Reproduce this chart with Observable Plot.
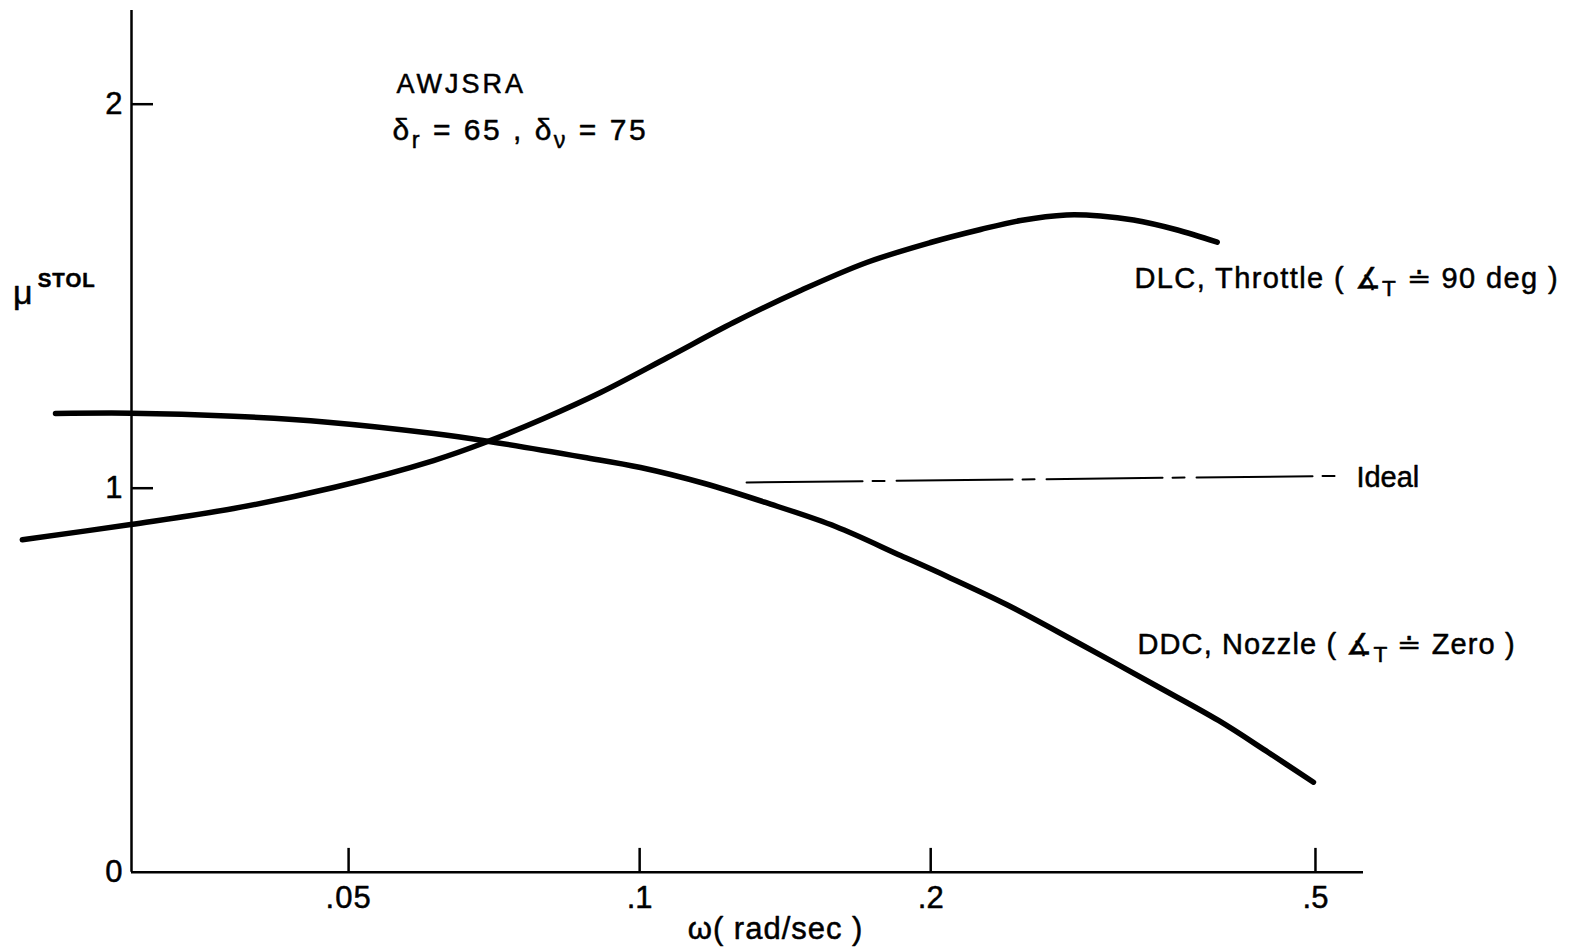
<!DOCTYPE html>
<html><head><meta charset="utf-8">
<script src="https://cdn.jsdelivr.net/npm/d3@7"></script>
<script src="https://cdn.jsdelivr.net/npm/@observablehq/plot@0.6"></script>
<style>
html,body{margin:0;padding:0;background:#fff;}
</style></head><body><div id="chart"></div>
<script>
// ---- data ----
const dlcOmega = [0.02299, 0.02976, 0.03802, 0.04825, 0.06122, 0.06963, 0.07957, 0.09111, 0.10687, 0.12506, 0.14669, 0.17171, 0.1999, 0.2252, 0.2477, 0.2763, 0.2997, 0.3242, 0.3583, 0.3957];
const dlcMu    = [0.8656, 0.9055, 0.9471, 1.0018, 1.0721, 1.1216, 1.1815, 1.2492, 1.3404, 1.4315, 1.5148, 1.5878, 1.6398, 1.6737, 1.6971, 1.7115, 1.7089, 1.6984, 1.6737, 1.6406];
const ddcOmega = [0.02488, 0.02976, 0.03802, 0.04757, 0.06122, 0.06963, 0.0875, 0.10021, 0.11673, 0.13493, 0.15944, 0.18617, 0.20801, 0.23956, 0.28368, 0.34327, 0.39687, 0.44698, 0.49763];
const ddcMu    = [1.1945, 1.1955, 1.1875, 1.1719, 1.1424, 1.1224, 1.0807, 1.0539, 1.0122, 0.9628, 0.9003, 0.8247, 0.7701, 0.6971, 0.5982, 0.4836, 0.3951, 0.3117, 0.2344];
const idealOmega = [0.129, 0.528];
const idealMu    = [1.015, 1.032];

const xTicks = [0.05, 0.1, 0.2, 0.5];
const xTickLabels = [".05", ".1", ".2", ".5"];
const yTicks = [0, 1, 2];
const yTickLabels = ["0", "1", "2"];
const yTickMarks = [1, 2];

const xDomain = [0.029815, 0.5606];
const yDomain = [0, 2.244];

// annotation texts and anchors (data coordinates)
const labelTexts = ["DLC, Throttle ( ∡T ≐ 90 deg )", "DDC, Nozzle ( ∡T ≐ Zero )", "Ideal"];
const labelX = [0.3249, 0.3273, 0.5512];
const labelY = [1.5201, 0.5695, 1.0044];
const titleTexts = ["AWJSRA", "δr = 65 , δν = 75"];
const titleX = [0.05605, 0.05552];
const titleY = [2.0279, 1.908];
const yLabelText = "μSTOL";
const yLabelPos = [0.02249, 1.4784];
const xLabelText = "ω( rad/sec )";
const xLabelPos = [0.13822, -0.1727];

const dlc = dlcOmega.map((x, i) => ({x, y: dlcMu[i]}));
const ddc = ddcOmega.map((x, i) => ({x, y: ddcMu[i]}));
const ideal = idealOmega.map((x, i) => ({x, y: idealMu[i]}));
const labels = labelTexts.map((t, i) => ({t, x: labelX[i], y: labelY[i]}));
const titles = titleTexts.map((t, i) => ({t, x: titleX[i], y: titleY[i]}));

const tickEndX = xDomain[0] * Math.pow(10, 22 / 967);
const font = "'Liberation Sans', Arial, sans-serif";
const ink = {fill: "#000", stroke: "#000", strokeWidth: 0.5};

const chart = Plot.plot({
  width: 1578,
  height: 949,
  marginLeft: 131,
  marginRight: 215,
  marginTop: 10,
  marginBottom: 77.3,
  x: {type: "log", domain: xDomain, axis: null},
  y: {domain: yDomain, axis: null},
  style: {fontFamily: font, background: "#fff", overflow: "visible", color: "#000"},
  marks: [
    Plot.ruleX([xDomain[0]], {y1: yDomain[0], y2: yDomain[1], stroke: "#000", strokeWidth: 2.5}),
    Plot.ruleY([0], {x1: xDomain[0], x2: xDomain[1], stroke: "#000", strokeWidth: 2.5}),
    Plot.ruleY(yTickMarks, {x1: xDomain[0], x2: tickEndX, stroke: "#000", strokeWidth: 2.5}),
    Plot.ruleX(xTicks, {y1: 0, y2: 0.062, stroke: "#000", strokeWidth: 2.5}),
    Plot.text(xTicks, {x: d => d, y: 0, text: (d, i) => xTickLabels[i], dy: 26, fontSize: 31, ...ink}),
    Plot.text(yTicks, {x: xDomain[0], y: d => d, text: (d, i) => yTickLabels[i], textAnchor: "end", dx: -9, fontSize: 31, ...ink}),
    Plot.line(ideal, {x: "x", y: "y", stroke: "#000", strokeWidth: 2, strokeDasharray: "116,10,12,12"}),
    Plot.line(dlc, {x: "x", y: "y", stroke: "#000", strokeWidth: 5.5, strokeLinecap: "round", curve: "catmull-rom"}),
    Plot.line(ddc, {x: "x", y: "y", stroke: "#000", strokeWidth: 5.5, strokeLinecap: "round", curve: "catmull-rom"}),
    Plot.text(labels, {x: "x", y: "y", text: "t", textAnchor: "start", lineAnchor: "bottom", fontSize: 29, ...ink}),
    Plot.text(titles, {x: "x", y: "y", text: "t", textAnchor: "start", lineAnchor: "bottom", fontSize: (d, i) => i === 0 ? 27 : 30, ...ink}),
    Plot.text([yLabelText], {x: yLabelPos[0], y: yLabelPos[1], text: d => d, textAnchor: "start", lineAnchor: "bottom", fontSize: 34, ...ink}),
    Plot.text([xLabelText], {x: xLabelPos[0], y: xLabelPos[1], text: d => d, textAnchor: "middle", lineAnchor: "bottom", fontSize: 31, ...ink})
  ]
});
document.getElementById("chart").appendChild(chart);

// rich text (subscripts / superscripts) as real SVG tspans
const rich = {
  "DLC, Throttle ( ∡T ≐ 90 deg )": [["DLC, Throttle ( ∡"], ["T", "sub"], [" ≐ 90 deg )"]],
  "DDC, Nozzle ( ∡T ≐ Zero )": [["DDC, Nozzle ( ∡"], ["T", "sub"], [" ≐ Zero )"]],
  "δr = 65 , δν = 75": [["δ"], ["r", "sub"], [" = 65 , δ"], ["ν", "sub"], [" = 75"]],
  "μSTOL": [["μ"], ["STOL", "sup"]]
};
const spacing = {
  "AWJSRA": "3px",
  "DLC, Throttle ( ∡T ≐ 90 deg )": "1.4px",
  "DDC, Nozzle ( ∡T ≐ Zero )": "1.1px",
  "δr = 65 , δν = 75": "2.5px",
  "ω( rad/sec )": "1px",
  ".05": "1px"
};
d3.select(chart).selectAll("text").each(function() {
  const el = d3.select(this);
  const key = this.textContent;
  if (spacing[key]) el.attr("letter-spacing", spacing[key]);
  const parts = rich[key];
  if (!parts) return;
  el.text(null);
  let shift = 0;
  for (const [s, kind] of parts) {
    const ts = el.append("tspan").text(s);
    let target = 0;
    if (kind === "sub") { target = 8; ts.attr("font-size", "0.78em"); }
    if (kind === "sup") { target = -17; ts.attr("font-size", "0.6em").attr("font-weight", "bold").attr("dx", 5).attr("letter-spacing", "1px"); }
    if (target !== shift) { ts.attr("dy", target - shift); shift = target; }
  }
});
</script>
</body></html>
